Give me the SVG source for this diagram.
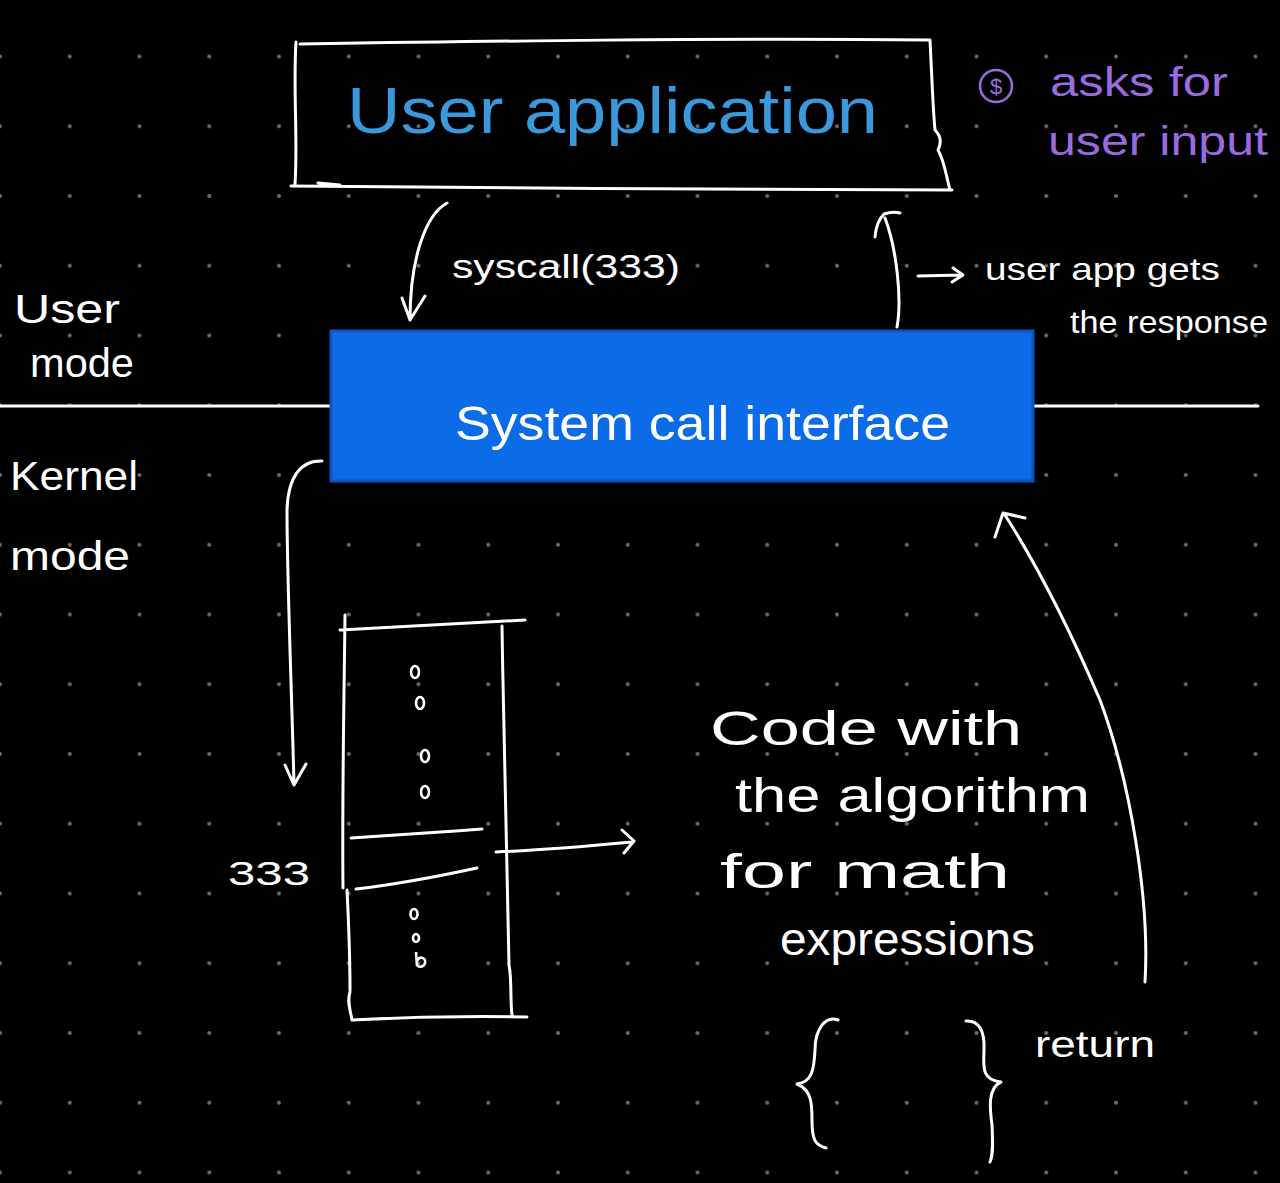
<svg xmlns="http://www.w3.org/2000/svg" width="1280" height="1183" viewBox="0 0 1280 1183">
<defs>
<pattern id="dots" patternUnits="userSpaceOnUse" x="-34.875" y="21.625" width="69.75" height="69.75">
<circle cx="34.875" cy="34.875" r="2" fill="#6e6e6e"/>
</pattern>
<style>
.ink{fill:none;stroke:#fff;stroke-width:3;stroke-linecap:round;stroke-linejoin:round}
.w{fill:#fff;font-family:"Liberation Sans",Arial,sans-serif}
.p{fill:#9a6be0;font-family:"Liberation Sans",Arial,sans-serif}
</style>
</defs>
<rect width="1280" height="1183" fill="#000"/>
<rect width="1280" height="1183" fill="url(#dots)"/>

<g id="divider">
<path class="ink" d="M0 406 L330 406 M1034 406 L1258 406"/>
</g>

<g id="user-application">
<path class="ink" d="M300 44 C500 41 700 38 930 40 M930 40 C932 80 933 110 935 130 C940 135 942 142 938 150 C944 160 946 175 950 190 M291 186 C500 188 750 190 952 190 M296 42 C293 90 298 140 295 184 M318 183 L340 185"/>
<text x="347" y="133" font-size="64" fill="#3a98dc" font-family="Liberation Sans,Arial,sans-serif" textLength="531" lengthAdjust="spacingAndGlyphs">User application</text>
</g>

<g id="note-input">
<circle cx="996" cy="86" r="16" fill="none" stroke="#9a6be0" stroke-width="2.5"/>
<text class="p" x="996" y="94" font-size="22" text-anchor="middle">$</text>
<text class="p" x="1050" y="96" font-size="40" textLength="178" lengthAdjust="spacingAndGlyphs">asks for</text>
<text class="p" x="1048" y="155" font-size="40" textLength="220" lengthAdjust="spacingAndGlyphs">user input</text>
</g>

<g id="mode-labels">
<text class="w" x="14" y="323" font-size="40" textLength="106" lengthAdjust="spacingAndGlyphs">User</text>
<text class="w" x="30" y="377" font-size="40" textLength="104" lengthAdjust="spacingAndGlyphs">mode</text>
<text class="w" x="10" y="490" font-size="40" textLength="128" lengthAdjust="spacingAndGlyphs">Kernel</text>
<text class="w" x="10" y="570" font-size="40" textLength="120" lengthAdjust="spacingAndGlyphs">mode</text>
</g>

<g id="system-call-interface">
<rect x="331" y="331" width="702" height="150" fill="#0c6ce8" stroke="#0a55c0" stroke-width="3"/>
<text class="w" x="455" y="440" font-size="48" textLength="495" lengthAdjust="spacingAndGlyphs">System call interface</text>
</g>

<g id="labels">
<text class="w" x="452" y="278" font-size="34" textLength="228" lengthAdjust="spacingAndGlyphs">syscall(333)</text>
<text class="w" x="985" y="280" font-size="32" textLength="235" lengthAdjust="spacingAndGlyphs">user app gets</text>
<text class="w" x="1070" y="333" font-size="32" textLength="198" lengthAdjust="spacingAndGlyphs">the response</text>
<text class="w" x="228" y="885" font-size="34" textLength="82" lengthAdjust="spacingAndGlyphs">333</text>
</g>

<g id="syscall-table">
<path class="ink" d="M340 630 C400 627 460 624 525 620 M345 615 C344 700 342 800 343 888 M347 890 C349 930 350 970 350 990 M350 992 C347 1000 350 1010 352 1020 M352 1020 C410 1017 470 1016 527 1017 M502 626 C504 750 507 880 509 965 M509 965 C512 980 510 1000 512 1015 M351 838 C400 835 440 832 482 829 M356 889 C400 884 440 876 477 868"/>
<g fill="none" stroke="#fff" stroke-width="2.6">
<ellipse cx="415" cy="672" rx="4" ry="6"/>
<ellipse cx="420" cy="703" rx="4" ry="6"/>
<ellipse cx="425" cy="756" rx="4" ry="6"/>
<ellipse cx="425" cy="792" rx="4" ry="6"/>
<ellipse cx="414" cy="914" rx="3.5" ry="5"/>
<ellipse cx="416" cy="938" rx="3" ry="4"/>
<path d="M416 952 L417 966 M417 961 C420 955 426 958 425 963 C424 967 419 968 417 965"/>
</g>
</g>

<g id="code-block">
<text class="w" x="710" y="745" font-size="48" textLength="312" lengthAdjust="spacingAndGlyphs">Code with</text>
<text class="w" x="735" y="812" font-size="48" textLength="355" lengthAdjust="spacingAndGlyphs">the algorithm</text>
<text class="w" x="720" y="888" font-size="48" textLength="290" lengthAdjust="spacingAndGlyphs">for math</text>
<text class="w" x="780" y="955" font-size="46" textLength="255" lengthAdjust="spacingAndGlyphs">expressions</text>
<path class="ink" d="M838 1020 C825 1015 815 1030 815 1050 C814 1070 812 1082 797 1084 C812 1090 812 1105 812 1120 C812 1140 815 1145 826 1148"/>
<path class="ink" d="M966 1021 C978 1020 985 1030 984 1050 C983 1070 983 1080 1001 1082 C987 1088 990 1110 992 1125 C993 1145 993 1155 990 1162"/>
<text class="w" x="1035" y="1057" font-size="36" textLength="120" lengthAdjust="spacingAndGlyphs">return</text>
</g>

<g id="connectors">
<path class="ink" d="M447 203 C425 215 410 260 410 320 M402 298 L410 320 L425 296"/>
<path class="ink" d="M897 327 C902 300 897 250 885 218 M875 237 C876 225 880 218 884 214 C890 212 896 212 900 213"/>
<path class="ink" d="M918 276 L962 275 M953 268 L963 275 L952 282"/>
<path class="ink" d="M322 461 C300 460 288 478 287 510 C287 580 292 700 294 785 M285 765 L294 785 L306 764"/>
<path class="ink" d="M496 852 C540 850 590 846 632 842 M622 830 L634 841 L624 853"/>
<path class="ink" d="M1145 982 C1150 900 1130 780 1100 700 C1070 630 1040 570 1005 515 M995 537 L1003 513 L1025 518"/>
</g>
</svg>
